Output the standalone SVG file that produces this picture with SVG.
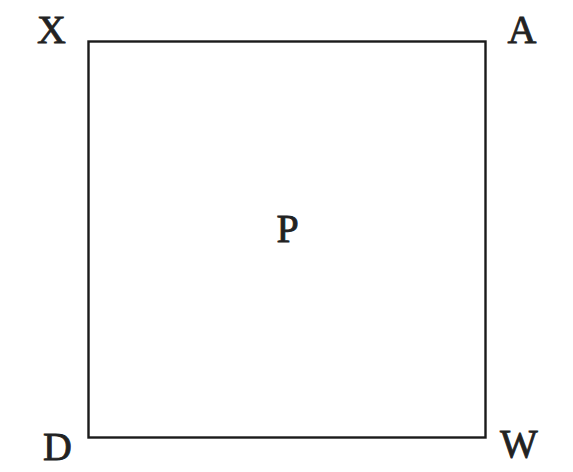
<svg xmlns="http://www.w3.org/2000/svg" width="573" height="472" viewBox="0 0 573 472">
<style>
.lbl{font-family:"Liberation Serif","Times New Roman",serif;font-size:40px;fill:#222;stroke:#222;stroke-width:0.8;text-anchor:middle}
.edge{fill:none;stroke:#1a1a1a;stroke-width:2.4}
</style>
<rect width="573" height="472" fill="#fff"/>
<g id="connectors">
<rect class="edge" x="88.5" y="41.5" width="397" height="396"/>
</g>
<g id="X"><text class="lbl" x="51.5" y="42.5">X</text></g>
<g id="A"><text class="lbl" x="522" y="42.5">A</text></g>
<g id="D"><text class="lbl" x="57.5" y="460">D</text></g>
<g id="W"><text class="lbl" x="519" y="456.5">W</text></g>
<g id="P"><text class="lbl" x="287.5" y="242">P</text></g>
</svg>
